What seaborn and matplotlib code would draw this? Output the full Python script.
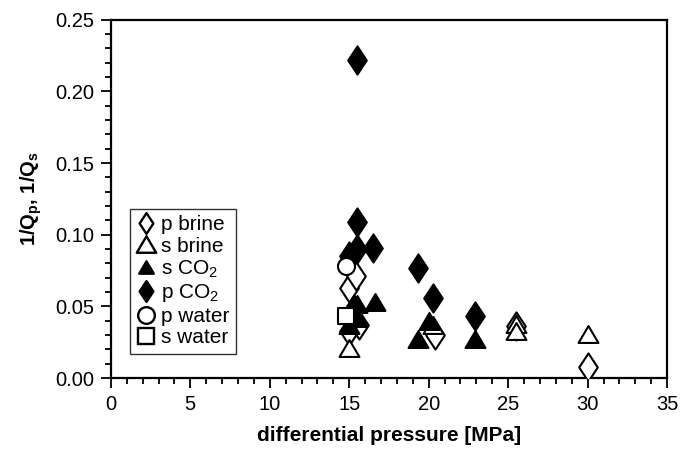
import numpy as np
import pandas as pd
import seaborn as sns
import matplotlib
matplotlib.use("Agg")
import matplotlib.pyplot as plt
from matplotlib.ticker import MultipleLocator, FormatStrFormatter
from matplotlib.lines import Line2D
from matplotlib.path import Path

# ---- data ----
p_brine_x = [15.0, 15.4, 15.0, 15.6, 20.4, 25.5, 30.0]
p_brine_y = [0.063, 0.071, 0.033, 0.037, 0.030, 0.036, 0.008]

s_brine_x = [15.0, 20.3, 25.5, 25.5, 30.0]
s_brine_y = [0.021, 0.037, 0.038, 0.033, 0.031]

s_co2_x = [15.0, 15.3, 15.5, 15.5, 16.6, 19.3, 20.0, 22.9]
s_co2_y = [0.037, 0.047, 0.052, 0.042, 0.053, 0.027, 0.040, 0.027]

p_co2_x = [15.5, 15.5, 15.5, 15.0, 16.5, 19.3, 20.3, 22.9, 15.3]
p_co2_y = [0.222, 0.109, 0.090, 0.085, 0.091, 0.077, 0.056, 0.043, 0.048]

p_water_x = [14.8]
p_water_y = [0.078]

s_water_x = [14.8]
s_water_y = [0.043]

sns.set_style("ticks")
plt.rcParams['font.family'] = ['Liberation Sans', 'DejaVu Sans']
plt.rcParams['mathtext.fontset'] = 'custom'
plt.rcParams['mathtext.rm'] = 'Liberation Sans'
plt.rcParams['mathtext.bf'] = 'Liberation Sans:bold'
plt.rcParams['text.color'] = 'black'
plt.rcParams['axes.labelcolor'] = 'black'
plt.rcParams['xtick.color'] = 'black'
plt.rcParams['ytick.color'] = 'black'

DIAMOND = Path([(0, 1), (0.66, 0), (0, -1), (-0.66, 0), (0, 1)],
               [Path.MOVETO, Path.LINETO, Path.LINETO, Path.LINETO, Path.CLOSEPOLY])
TRI = Path([(0, 0.85), (1, -0.85), (-1, -0.85), (0, 0.85)],
           [Path.MOVETO, Path.LINETO, Path.LINETO, Path.CLOSEPOLY])

fig = plt.figure(figsize=(6.8, 4.61), dpi=100)
ax = fig.add_axes([0.163, 0.180, 0.818, 0.777])

series = [
    ("p brine", p_brine_x, p_brine_y, DIAMOND, "white", 410),
    ("s brine", s_brine_x, s_brine_y, TRI, "white", 205),
    ("s CO$_2$", s_co2_x, s_co2_y, TRI, "black", 205),
    ("p CO$_2$", p_co2_x, p_co2_y, DIAMOND, "black", 410),
    ("p water", p_water_x, p_water_y, "o", "white", 150),
    ("s water", s_water_x, s_water_y, "s", "white", 140),
]

for label, xs, ys, mk, fc, sz in series:
    df = pd.DataFrame({"x": xs, "y": ys})
    sns.scatterplot(data=df, x="x", y="y", marker=mk, s=sz, facecolor=fc,
                    edgecolor="black", linewidth=1.5, ax=ax, legend=False, zorder=3)

ax.set_xlim(0, 35)
ax.set_ylim(0, 0.25)
ax.xaxis.set_major_locator(MultipleLocator(5))
ax.xaxis.set_minor_locator(MultipleLocator(1))
ax.yaxis.set_major_locator(MultipleLocator(0.05))
ax.yaxis.set_minor_locator(MultipleLocator(0.01))
ax.yaxis.set_major_formatter(FormatStrFormatter('%.2f'))
ax.tick_params(which='major', direction='out', length=7, width=1.3, labelsize=14.5, pad=5)
ax.tick_params(which='minor', direction='out', length=4.5, width=1.3)
for sp in ax.spines.values():
    sp.set_linewidth(1.6)
    sp.set_visible(True)
    sp.set_color('black')

ax.set_xlabel("differential pressure [MPa]", fontsize=15, fontweight='bold', labelpad=9)
ax.set_ylabel("1/Q$_\\mathbf{p}$, 1/Q$_\\mathbf{s}$", fontsize=14.5, fontweight='bold', labelpad=8)

leg_sizes = [15, 14, 10.5, 15, 12, 12]
handles = [Line2D([], [], linestyle='none', marker=mk, markersize=ms,
                  markerfacecolor=fc, markeredgecolor='black', markeredgewidth=1.7, label=lab)
           for (lab, _, _, mk, fc, _), ms in zip(series, leg_sizes)]
leg = ax.legend(handles=handles, loc='upper left', bbox_to_anchor=(0.034, 0.472),
                frameon=True, fancybox=False, edgecolor='black', fontsize=15,
                handletextpad=0.2, handlelength=1.0, borderpad=0.3, labelspacing=0.12,
                borderaxespad=0)
leg.get_frame().set_linewidth(1.0)

fig.savefig("out.png", dpi=100)
